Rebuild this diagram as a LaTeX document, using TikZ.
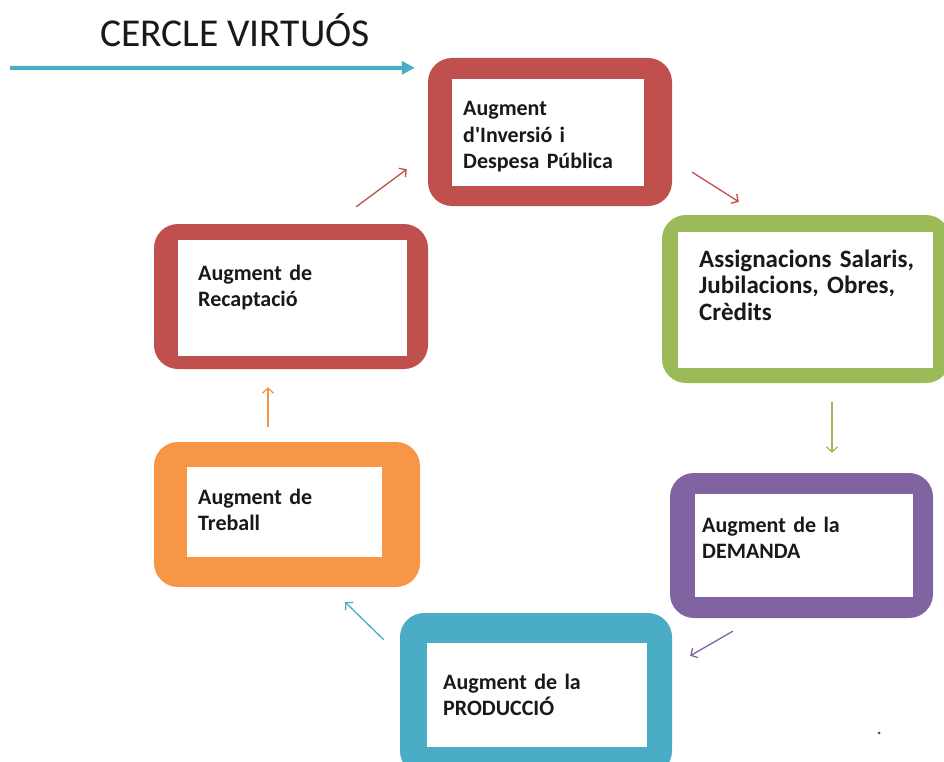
\documentclass[tikz,border=0pt]{standalone}
\usepackage{fontspec}
\setmainfont{Carlito}
\usetikzlibrary{arrows.meta}

\definecolor{cred}{HTML}{C0504D}
\definecolor{cgreen}{HTML}{9BBB59}
\definecolor{cpurple}{HTML}{8064A2}
\definecolor{cblue}{HTML}{4BACC6}
\definecolor{corange}{HTML}{F79646}

\tikzset{
  cbox/.style={fill=#1, rounded corners=24pt, inner sep=0pt},
  ctext/.style={anchor=base west, inner sep=0pt, align=left, text width=260pt,
    font=\bfseries\fontsize{22}{26.5}\selectfont, text=black!90},
  link/.style={draw=#1, line width=1.3pt, -{Straight Barb[length=5pt,width=11pt]}}
}

\begin{document}
\begin{tikzpicture}[x=1pt, y=-1pt]
    \useasboundingbox (0,0) rectangle (944,762);
    \clip (0,0) rectangle (944,762);

    % Title and lead arrow
    \node[anchor=base west, inner sep=0pt, font=\fontsize{39.5}{44}\selectfont, text=black!90] (title) at (100,47) {CERCLE VIRTUÓS};
    \coordinate (lead) at (10,68);

    % Boxes
    \node[cbox=cred, minimum width=244, minimum height=148] (inv) at (550,132) {};
    \node[cbox=cgreen, minimum width=288, minimum height=168] (asg) at (806,299) {};
    \node[cbox=cpurple, minimum width=263, minimum height=145] (dem) at (801.5,545.5) {};
    \node[cbox=cblue, minimum width=272, minimum height=162] (pro) at (536,694) {};
    \node[cbox=corange, minimum width=266, minimum height=145] (tre) at (287,514.5) {};
    \node[cbox=cred, minimum width=274, minimum height=145] (rec) at (291,296.5) {};

    % White insides
    \fill[white] (452,79) rectangle (644,186);
    \fill[white] (678,232) rectangle (933,368);
    \fill[white] (695,494) rectangle (913,597);
    \fill[white] (427,643) rectangle (647,747);
    \fill[white] (187,467) rectangle (382,557);
    \fill[white] (178,240) rectangle (407,356);

    % Texts
    \node[ctext] (invt) at (463,116) {Augment\\d\textquotesingle Inversió i\\Despesa Pública};
    \node[ctext, font=\bfseries\fontsize{25}{26.5}\selectfont] (asgt) at (699,267) {Assignacions Salaris,\\Jubilacions, Obres,\\Crèdits};
    \node[ctext] (demt) at (702,532) {Augment de la\\DEMANDA};
    \node[ctext] (prot) at (443,689) {Augment de la\\PRODUCCIÓ};
    \node[ctext] (tret) at (198,504) {Augment de\\Treball};
    \node[ctext] (rect) at (198,280) {Augment de\\Recaptació};

    % Arrows
    \draw[line width=4pt, cblue, -{Triangle[length=13pt,width=13pt]}] (lead) -- ([shift={(-13,10)}]inv.north west);
    \draw[link=cred] ([shift={(-72,-17)}]rec.north east) -- ([shift={(-21,-37)}]inv.south west);
    \draw[link=cred] ([shift={(20,-34)}]inv.south east) -- ([shift={(77,-13)}]asg.north west);
    \draw[link=cgreen] ([shift={(26,19)}]asg.south) -- ([shift={(30.5,-20)}]dem.north);
    \draw[link=cpurple] ([shift={(63,13)}]dem.south west) -- ([shift={(18,43)}]pro.north east);
    \draw[link=cblue] ([shift={(-16,27)}]pro.north west) -- ([shift={(-75,15)}]tre.south east);
    \draw[link=corange] ([shift={(-19,-15)}]tre.north) -- ([shift={(-23,18)}]rec.south);

    \fill[black!70] (879,733) circle[radius=1.5pt];
\end{tikzpicture}
\end{document}
